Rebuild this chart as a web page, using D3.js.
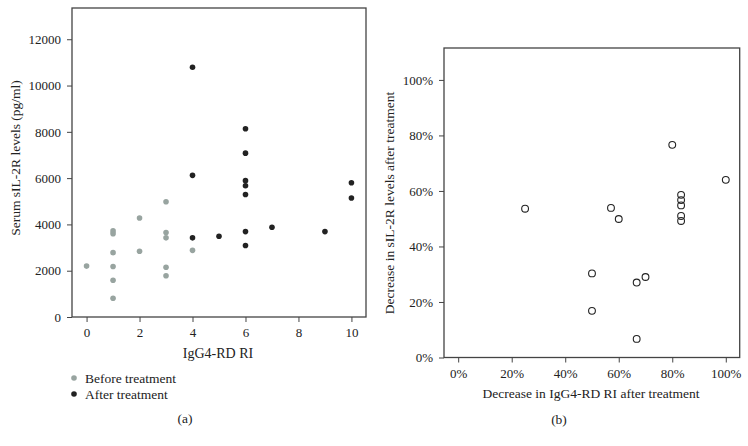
<!DOCTYPE html>
<html>
<head>
<meta charset="utf-8">
<script src="https://cdn.jsdelivr.net/npm/d3@7"></script>
<style>
  body { margin: 0; background: #fff; }
  svg { display: block; font-family: "Liberation Serif", "DejaVu Serif", serif; }
  .tick line { stroke: #444; }
</style>
</head>
<body>
<svg width="748" height="446"></svg>
<script>
// panel (a): IgG4-RD RI vs serum sIL-2R
const beforeRI = [0, 1, 1, 1, 1, 1, 1, 2, 2, 3, 3, 3, 3, 3, 4];
const beforeIL = [2200, 3720, 3600, 2780, 2180, 1590, 810, 4280, 2840, 4980, 3650, 3420, 2150, 1780, 2880];
const afterRI = [4, 4, 4, 5, 6, 6, 6, 6, 6, 6, 6, 7, 9, 10, 10];
const afterIL = [10790, 6120, 3420, 3490, 8130, 7080, 5890, 5670, 5290, 3690, 3090, 3880, 3690, 5800, 5140];
const xTicksA = [0, 2, 4, 6, 8, 10];
const yTicksA = [0, 2000, 4000, 6000, 8000, 10000, 12000];

// panel (b): decrease in RI vs decrease in sIL-2R
const decRI = [0.25, 0.5, 0.5, 0.571, 0.6, 0.667, 0.7, 0.667, 0.8, 0.833, 0.833, 0.833, 0.833, 0.833, 1.0];
const decIL = [0.536, 0.303, 0.168, 0.539, 0.499, 0.27, 0.29, 0.067, 0.766, 0.586, 0.567, 0.548, 0.51, 0.492, 0.64];
const ticksB = [0, 0.2, 0.4, 0.6, 0.8, 1.0];

const svg = d3.select('svg');
const frameColor = '#444';
const serif = '"Liberation Serif", "DejaVu Serif", serif';

function styleAxis(g) {
  g.select('.domain').remove();
  g.attr('font-family', serif).attr('font-size', 13);
  g.selectAll('.tick text').attr('fill', '#222');
}

// ---- panel a
const xA = d3.scaleLinear().domain([-0.55, 10.55]).range([72, 366]);
const yA = d3.scaleLinear().domain([0, 13350]).range([317, 8]);

const gA = svg.append('g');

gA.append('rect')
  .attr('x', xA.range()[0]).attr('y', yA.range()[1])
  .attr('width', xA.range()[1] - xA.range()[0])
  .attr('height', yA.range()[0] - yA.range()[1])
  .attr('fill', 'none').attr('stroke', frameColor).attr('stroke-width', 1.3);

gA.append('g')
  .attr('transform', `translate(0,${yA.range()[0]})`)
  .call(d3.axisBottom(xA).tickValues(xTicksA).tickSize(5).tickPadding(6).tickSizeOuter(0))
  .call(styleAxis);

gA.append('g')
  .attr('transform', `translate(${xA.range()[0]},0)`)
  .call(d3.axisLeft(yA).tickValues(yTicksA).tickFormat(d3.format('d')).tickSize(5).tickPadding(6).tickSizeOuter(0))
  .call(styleAxis);

gA.append('g').selectAll('circle')
  .data(beforeRI.map((d, i) => [d, beforeIL[i]]))
  .join('circle')
  .attr('cx', d => xA(d[0])).attr('cy', d => yA(d[1]))
  .attr('r', 2.8).attr('fill', '#98a4a0');

gA.append('g').selectAll('circle')
  .data(afterRI.map((d, i) => [d, afterIL[i]]))
  .join('circle')
  .attr('cx', d => xA(d[0])).attr('cy', d => yA(d[1]))
  .attr('r', 2.8).attr('fill', '#222');

gA.append('text')
  .attr('x', 218).attr('y', 358)
  .attr('text-anchor', 'middle').attr('font-size', 14).attr('fill', '#222')
  .text('IgG4-RD RI');

gA.append('text')
  .attr('transform', 'translate(20,158) rotate(-90)')
  .attr('text-anchor', 'middle').attr('font-size', 13.5).attr('fill', '#222')
  .text('Serum sIL-2R levels (pg/ml)');

const legend = [
  { label: 'Before treatment', color: '#98a4a0' },
  { label: 'After treatment', color: '#222' }
];
const lg = gA.append('g').selectAll('g')
  .data(legend)
  .join('g')
  .attr('transform', (d, i) => `translate(74,${378 + i * 16})`);
lg.append('circle').attr('r', 2.8).attr('fill', d => d.color);
lg.append('text')
  .attr('x', 11).attr('y', 4.5)
  .attr('font-size', 13.5).attr('fill', '#222')
  .text(d => d.label);

gA.append('text')
  .attr('x', 185).attr('y', 423)
  .attr('text-anchor', 'middle').attr('font-size', 13.5).attr('fill', '#222')
  .text('(a)');

// ---- panel b
const xB = d3.scaleLinear().domain([-0.053, 1.052]).range([444, 739.7]);
const yB = d3.scaleLinear().domain([0, 1.115]).range([357.5, 48]);
const pct = d3.format('.0%');

const gB = svg.append('g');

gB.append('rect')
  .attr('x', xB.range()[0]).attr('y', yB.range()[1])
  .attr('width', xB.range()[1] - xB.range()[0])
  .attr('height', yB.range()[0] - yB.range()[1])
  .attr('fill', 'none').attr('stroke', frameColor).attr('stroke-width', 1.3);

gB.append('g')
  .attr('transform', `translate(0,${yB.range()[0]})`)
  .call(d3.axisBottom(xB).tickValues(ticksB).tickFormat(pct).tickSize(5).tickPadding(6).tickSizeOuter(0))
  .call(styleAxis);

gB.append('g')
  .attr('transform', `translate(${xB.range()[0]},0)`)
  .call(d3.axisLeft(yB).tickValues(ticksB).tickFormat(pct).tickSize(5).tickPadding(6).tickSizeOuter(0))
  .call(styleAxis);

gB.append('g').selectAll('circle')
  .data(decRI.map((d, i) => [d, decIL[i]]))
  .join('circle')
  .attr('cx', d => xB(d[0])).attr('cy', d => yB(d[1]))
  .attr('r', 3.4).attr('fill', 'none').attr('stroke', '#222').attr('stroke-width', 1.1);

gB.append('text')
  .attr('x', 591).attr('y', 398)
  .attr('text-anchor', 'middle').attr('font-size', 13.5).attr('fill', '#222')
  .text('Decrease in IgG4-RD RI after treatment');

gB.append('text')
  .attr('transform', 'translate(394,203) rotate(-90)')
  .attr('text-anchor', 'middle').attr('font-size', 13.5).attr('fill', '#222')
  .text('Decrease in sIL-2R levels after treatment');

gB.append('text')
  .attr('x', 559).attr('y', 424)
  .attr('text-anchor', 'middle').attr('font-size', 13.5).attr('fill', '#222')
  .text('(b)');
</script>
</body>
</html>
